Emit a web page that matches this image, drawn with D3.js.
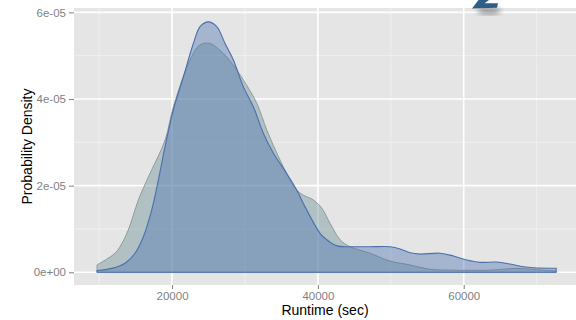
<!DOCTYPE html>
<html>
<head>
<meta charset="utf-8">
<script src="https://cdn.jsdelivr.net/npm/d3@7"></script>
<style>
  body { margin: 0; background: #fff; }
  svg { display: block; font-family: "Liberation Sans", Arial, sans-serif; }
</style>
</head>
<body>
<svg id="chart" width="576" height="320"></svg>
<script>
// grey density (runtime in sec, density)
const greyRuntime = [9712, 11000, 12181, 13000, 14006, 15380, 16749, 19040, 20180, 22470, 23840, 25210, 27040, 28300,
  29780, 31620, 33000, 34810, 36870, 38010, 39380, 40530, 41670, 43050, 44420, 47160, 49900, 52650, 55390, 58130,
  61000, 63620, 67300, 70000, 72675];
const greyDensity = [1.7e-6, 3.0e-6, 4.4e-6, 6.3e-6, 9.8e-6, 1.67e-5, 2.2e-5, 3.05e-5, 3.82e-5, 4.9e-5, 5.25e-5, 5.28e-5, 5.05e-5, 4.8e-5,
  4.44e-5, 3.9e-5, 3.28e-5, 2.59e-5, 1.94e-5, 1.78e-5, 1.67e-5, 1.48e-5, 1.13e-5, 7.5e-6, 5.9e-6, 4.4e-6, 2.6e-6, 1.7e-6, 0.7e-6, 0.5e-6,
  0.45e-6, 0.5e-6, 0.9e-6, 0.6e-6, 0.3e-6];

// blue density
const blueRuntime = [9712, 11730, 13550, 14920, 16060, 17210, 18120, 19040, 20180, 21550, 22920, 23840, 24980, 26130, 27270, 28410,
  29780, 31150, 32520, 33900, 35730, 37100, 38240, 40300, 41210, 42600, 44420, 47160, 49900, 51280, 52650, 54020, 56760,
  58590, 60420, 62250, 64540, 66360, 68190, 69560, 72675];
const blueDensity = [0.4e-6, 0.9e-6, 2.1e-6, 4.4e-6, 8.2e-6, 1.44e-5, 2.13e-5, 2.9e-5, 3.75e-5, 4.51e-5, 5.28e-5, 5.67e-5, 5.78e-5, 5.67e-5, 5.28e-5, 4.9e-5,
  4.28e-5, 3.82e-5, 3.21e-5, 2.75e-5, 2.28e-5, 1.9e-5, 1.51e-5, 9.0e-6, 7.5e-6, 6.1e-6, 5.9e-6, 5.9e-6, 5.9e-6, 5.4e-6, 4.5e-6, 4.2e-6, 4.4e-6,
  3.76e-6, 2.84e-6, 2.3e-6, 2.38e-6, 1.9e-6, 1.3e-6, 1.06e-6, 0.92e-6];

const xTicks = [20000, 40000, 60000];
const xTickLabels = ["20000", "40000", "60000"];
const xMinor = [10000, 30000, 50000, 70000];
const yTicks = [0, 2e-5, 4e-5, 6e-5];
const yTickLabels = ["0e+00", "2e-05", "4e-05", "6e-05"];
const yMinor = [1e-5, 3e-5, 5e-5];

const panel = { left: 74, right: 576, top: 8, bottom: 285 };

const svg = d3.select("#chart");

const x = d3.scaleLinear()
  .domain([6550, 75400])
  .range([panel.left, panel.right]);

const y = d3.scaleLinear()
  .domain([-2.93e-6, 6.1e-5])
  .range([panel.bottom, panel.top]);

// panel background
svg.append("rect")
  .attr("x", panel.left)
  .attr("y", panel.top)
  .attr("width", panel.right - panel.left)
  .attr("height", panel.bottom - panel.top)
  .attr("fill", "#e5e5e5");

// minor grid
svg.append("g").selectAll("line")
  .data(xMinor)
  .enter().append("line")
  .attr("x1", d => x(d)).attr("x2", d => x(d))
  .attr("y1", panel.top).attr("y2", panel.bottom)
  .attr("stroke", "#f2f2f2").attr("stroke-width", 0.8);

svg.append("g").selectAll("line")
  .data(yMinor)
  .enter().append("line")
  .attr("x1", panel.left).attr("x2", panel.right)
  .attr("y1", d => y(d)).attr("y2", d => y(d))
  .attr("stroke", "#f2f2f2").attr("stroke-width", 0.8);

// major grid
svg.append("g").selectAll("line")
  .data(xTicks)
  .enter().append("line")
  .attr("x1", d => x(d)).attr("x2", d => x(d))
  .attr("y1", panel.top).attr("y2", panel.bottom)
  .attr("stroke", "#ffffff").attr("stroke-width", 1.6);

svg.append("g").selectAll("line")
  .data(yTicks)
  .enter().append("line")
  .attr("x1", panel.left).attr("x2", panel.right)
  .attr("y1", d => y(d)).attr("y2", d => y(d))
  .attr("stroke", "#ffffff").attr("stroke-width", 1.6);

// densities
const area = d3.area()
  .x(d => x(d[0]))
  .y0(y(0))
  .y1(d => y(d[1]))
  .curve(d3.curveCatmullRom.alpha(0.5));

const greyData = greyRuntime.map((v, i) => [v, greyDensity[i]]);
const blueData = blueRuntime.map((v, i) => [v, blueDensity[i]]);

svg.append("path")
  .datum(greyData)
  .attr("d", d => area(d) + "Z")
  .attr("fill", "rgb(99,139,144)")
  .attr("fill-opacity", 0.4)
  .attr("stroke", "#8d9a9d")
  .attr("stroke-width", 1);

svg.append("path")
  .datum(blueData)
  .attr("d", d => area(d) + "Z")
  .attr("fill", "rgb(72,109,174)")
  .attr("fill-opacity", 0.4)
  .attr("stroke", "#4a6fae")
  .attr("stroke-width", 1.1);

// axes
const xAxis = svg.append("g")
  .attr("transform", "translate(0," + panel.bottom + ")")
  .call(d3.axisBottom(x).tickValues(xTicks).tickFormat((d, i) => xTickLabels[i]).tickSizeOuter(0).tickSize(4).tickPadding(3));
xAxis.select(".domain").remove();
xAxis.selectAll("line").attr("stroke", "#7f7f7f");
xAxis.selectAll("text").attr("fill", "#7f7f7f").style("font-size", "11.5px").style("font-family", "Liberation Sans, Arial, sans-serif");

const yAxis = svg.append("g")
  .attr("transform", "translate(" + panel.left + ",0)")
  .call(d3.axisLeft(y).tickValues(yTicks).tickFormat((d, i) => yTickLabels[i]).tickSizeOuter(0).tickSize(5).tickPadding(3));
yAxis.select(".domain").remove();
yAxis.selectAll("line").attr("stroke", "#7f7f7f");
yAxis.selectAll("text").attr("fill", "#7f7f7f").style("font-size", "11.5px").style("font-family", "Liberation Sans, Arial, sans-serif");

// axis titles
svg.append("text")
  .attr("x", (panel.left + panel.right) / 2)
  .attr("y", 315)
  .attr("text-anchor", "middle")
  .style("font-size", "14px")
  .attr("fill", "#000")
  .text("Runtime (sec)");

svg.append("text")
  .attr("transform", "translate(32," + (panel.top + panel.bottom) / 2 + ") rotate(-90)")
  .attr("text-anchor", "middle")
  .style("font-size", "14px")
  .attr("fill", "#000")
  .text("Probability Density");

// stray glyph fragment at the top edge
const defs = svg.append("defs");
defs.append("filter").attr("id", "blur").append("feGaussianBlur").attr("stdDeviation", 2.5);
svg.append("ellipse")
  .attr("cx", 489).attr("cy", 11).attr("rx", 12).attr("ry", 3.5)
  .attr("fill", "#555").attr("opacity", 0.55)
  .attr("filter", "url(#blur)");
svg.append("path")
  .attr("d", "M472,8.5 L478.5,0 L489,0 L484.5,3.2 L498,3.2 L497,7.8 Z")
  .attr("fill", "#2e5d86");
</script>
</body>
</html>
